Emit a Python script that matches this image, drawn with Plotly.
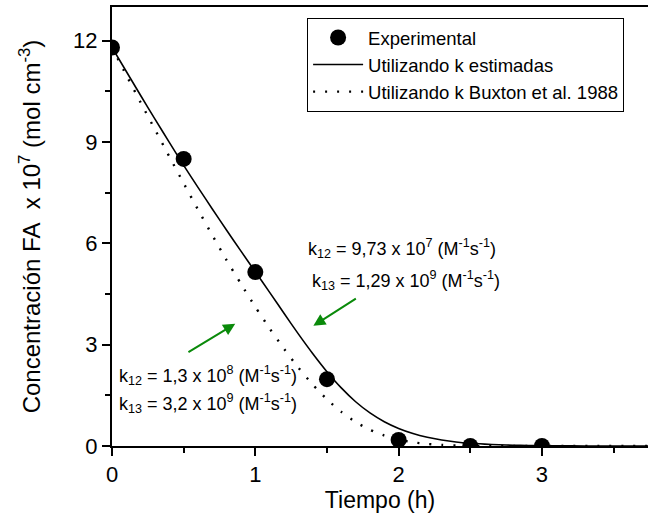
import plotly.graph_objects as go

# Experimental data
t_exp = [0.0, 0.5, 1.0, 1.5, 2.0, 2.5, 3.0]
c_exp = [11.8, 8.5, 5.15, 1.98, 0.18, 0.0, 0.0]

# Model curves
t_mod = [0.0, 0.1, 0.2, 0.3, 0.4, 0.5, 0.6, 0.7, 0.8, 0.9, 1.0, 1.1, 1.2, 1.3,
         1.4, 1.5, 1.6, 1.7, 1.8, 1.9, 2.0, 2.1, 2.2, 2.3, 2.4, 2.5, 2.6, 2.7,
         2.8, 2.9, 3.0, 3.2, 3.4, 3.6, 3.75]
c_est = [11.8, 11.09, 10.38, 9.68, 8.99, 8.31, 7.66, 7.02, 6.39, 5.77, 5.16,
         4.55, 3.93, 3.32, 2.74, 2.20, 1.72, 1.31, 0.98, 0.72, 0.52, 0.37,
         0.26, 0.18, 0.12, 0.08, 0.055, 0.035, 0.022, 0.014, 0.009, 0.004, 0.0,
         0.0, 0.0]
c_bux = [11.8, 10.98, 10.17, 9.37, 8.57, 7.78, 7.00, 6.24, 5.50, 4.80, 4.12,
         3.48, 2.88, 2.32, 1.82, 1.38, 1.01, 0.71, 0.48, 0.31, 0.19, 0.11,
         0.06, 0.03, 0.015, 0.01, 0.0, 0.0, 0.0, 0.0, 0.0, 0.0, 0.0, 0.0, 0.0]

FONT = "Liberation Sans, Arial, sans-serif"

fig = go.Figure()
fig.add_trace(go.Scatter(x=t_exp, y=c_exp, mode="markers", name="Experimental",
                         marker=dict(color="black", size=16)))
fig.add_trace(go.Scatter(x=t_mod, y=c_est, mode="lines", name="Utilizando k estimadas",
                         line=dict(color="black", width=1.6, shape="spline",
                                   smoothing=0.6)))
fig.add_trace(go.Scatter(x=t_mod, y=c_bux, mode="lines",
                         name="Utilizando k Buxton et al. 1988",
                         line=dict(color="black", width=2.4, dash="2px,10px",
                                   shape="spline", smoothing=0.6)))

ann_font = dict(family=FONT, size=18, color="black")
annotations = [
    dict(x=1.356, y=5.85, xref="x", yref="y", xanchor="left", yanchor="middle",
         text="k<sub>12</sub> = 9,73 x 10<sup>7</sup> (M<sup>-1</sup>s<sup>-1</sup>)",
         showarrow=False, font=ann_font),
    dict(x=1.384, y=4.9, xref="x", yref="y", xanchor="left", yanchor="middle",
         text="k<sub>13</sub> = 1,29 x 10<sup>9</sup> (M<sup>-1</sup>s<sup>-1</sup>)",
         showarrow=False, font=ann_font),
    dict(x=0.037, y=2.1, xref="x", yref="y", xanchor="left", yanchor="middle",
         text="k<sub>12</sub> = 1,3 x 10<sup>8</sup> (M<sup>-1</sup>s<sup>-1</sup>)",
         showarrow=False, font=ann_font),
    dict(x=0.037, y=1.25, xref="x", yref="y", xanchor="left", yanchor="middle",
         text="k<sub>13</sub> = 3,2 x 10<sup>9</sup> (M<sup>-1</sup>s<sup>-1</sup>)",
         showarrow=False, font=ann_font),
    dict(x=1.405, y=3.56, ax=1.712, ay=4.39, xref="x", yref="y", axref="x", ayref="y",
         text="", showarrow=True, arrowhead=2, arrowsize=1.2, arrowwidth=2,
         arrowcolor="#0a8a0a"),
    dict(x=0.86, y=3.62, ax=0.523, ay=2.75, xref="x", yref="y", axref="x", ayref="y",
         text="", showarrow=True, arrowhead=2, arrowsize=1.2, arrowwidth=2,
         arrowcolor="#0a8a0a"),
]

fig.update_layout(
    width=648, height=514,
    margin=dict(l=112, r=0, t=7, b=68),
    paper_bgcolor="white", plot_bgcolor="white",
    font=dict(family=FONT, color="black"),
    showlegend=True,
    legend=dict(x=0.364, y=0.975, xanchor="left", yanchor="top",
                bgcolor="white", bordercolor="black", borderwidth=1,
                font=dict(family=FONT, size=18.5), itemwidth=50,
                tracegroupgap=0),
    annotations=annotations,
)
fig.update_xaxes(
    range=[0, 3.74], showgrid=False, zeroline=False,
    showline=True, linecolor="black", linewidth=2, mirror=True,
    ticks="outside", ticklen=8, tickwidth=2, tickcolor="black",
    tickvals=[0, 1, 2, 3], tickfont=dict(size=22),
    minor=dict(tickvals=[0.5, 1.5, 2.5, 3.5], ticks="outside", ticklen=5,
               tickwidth=2, tickcolor="black"),
    title=dict(text="Tiempo (h)", font=dict(size=23), standoff=4),
)
fig.update_yaxes(
    range=[0, 13], showgrid=False, zeroline=False,
    showline=True, linecolor="black", linewidth=2, mirror=False,
    ticks="outside", ticklen=8, tickwidth=2, tickcolor="black",
    tickvals=[0, 3, 6, 9, 12], tickfont=dict(size=22),
    minor=dict(tickvals=[1.5, 4.5, 7.5, 10.5], ticks="outside", ticklen=5,
               tickwidth=2, tickcolor="black"),
    title=dict(text="Concentración FA&nbsp; x 10<sup>7</sup> (mol cm<sup>-3</sup>)",
               font=dict(size=24), standoff=26),
)

fig.write_html("out.html")
